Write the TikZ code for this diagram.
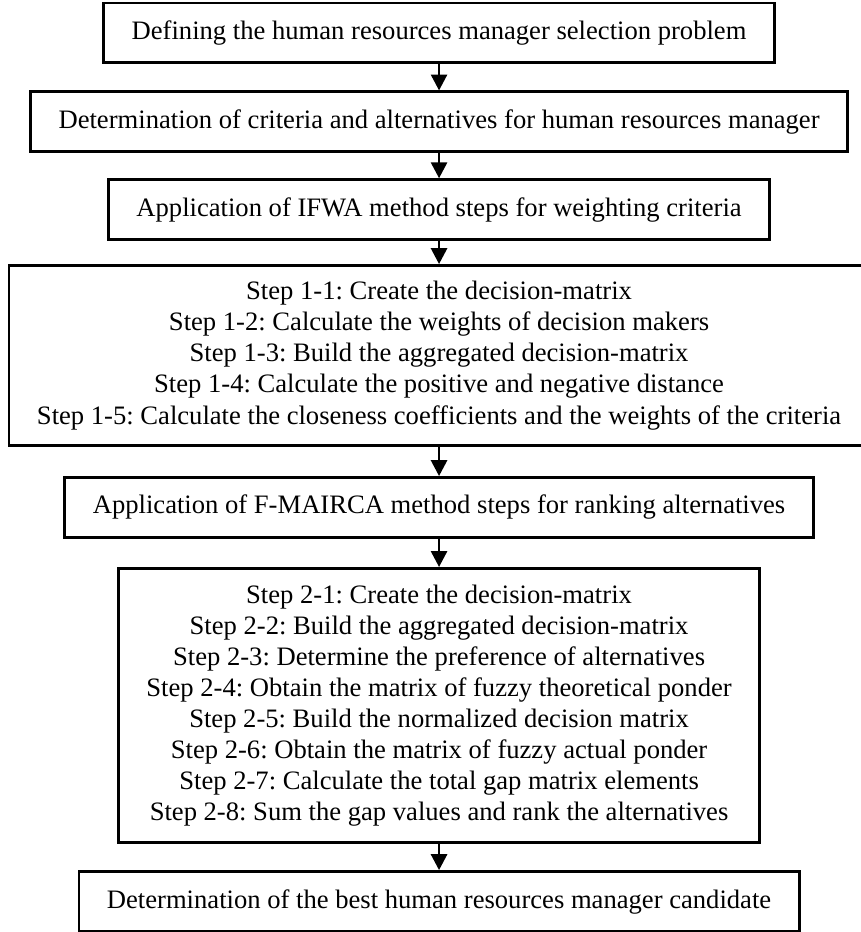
\documentclass[tikz,border=0pt]{standalone}
\usepackage{fontspec}
\setmainfont{Liberation Serif}
\usetikzlibrary{positioning,arrows.meta}

\begin{document}
\frenchspacing
\begin{tikzpicture}[
        node distance=11.8pt,
        box/.style={draw=black,line width=1.3pt,align=center,
                    inner xsep=12.6pt,inner ysep=4pt,minimum height=27pt,
                    font=\fontsize{12pt}{14pt}\selectfont},
        arr/.style={line width=1.3pt,-{Triangle[width=7.2pt,length=7.2pt]}}
    ]
    % 放置各个方框
    \node[box] (prob) {Defining the human resources manager selection problem};
    \node[box,below=of prob] (crit) {Determination of criteria and alternatives for human resources manager};
    \node[box,below=11.3pt of crit] (ifwa) {Application of IFWA method steps for weighting criteria};
    \node[box,below=10.4pt of ifwa,minimum height=81.2pt] (ifwasteps) {
        Step 1-1: Create the decision-matrix\\
        Step 1-2: Calculate the weights of decision makers\\
        Step 1-3: Build the aggregated decision-matrix\\
        Step 1-4: Calculate the positive and negative distance\\
        Step 1-5: Calculate the closeness coefficients and the weights of the criteria
    };
    \node[box,below=13.1pt of ifwasteps] (mairca) {Application of F-MAIRCA method steps for ranking alternatives};
    \node[box,below=12.7pt of mairca,minimum height=123.6pt] (maircasteps) {
        Step 2-1: Create the decision-matrix\\
        Step 2-2: Build the aggregated decision-matrix\\
        Step 2-3: Determine the preference of alternatives\\
        Step 2-4: Obtain the matrix of fuzzy theoretical ponder\\
        Step 2-5: Build the normalized decision matrix\\
        Step 2-6: Obtain the matrix of fuzzy actual ponder\\
        Step 2-7: Calculate the total gap matrix elements\\
        Step 2-8: Sum the gap values and rank the alternatives
    };
    \node[box,below=of maircasteps] (best) {Determination of the best human resources manager candidate};

    % 画箭头
    \draw[arr] (prob) -- (crit);
    \draw[arr] (crit) -- (ifwa);
    \draw[arr] (ifwa) -- (ifwasteps);
    \draw[arr] (ifwasteps) -- (mairca);
    \draw[arr] (mairca) -- (maircasteps);
    \draw[arr] (maircasteps) -- (best);

    % 固定画面大小(右边稍微裁掉)
    \pgfresetboundingbox
    \useasboundingbox ([xshift=-198pt,yshift=0.7pt]prob.north)
        rectangle ([xshift=189.9pt,yshift=-419.6pt]prob.north);
\end{tikzpicture}
\end{document}
